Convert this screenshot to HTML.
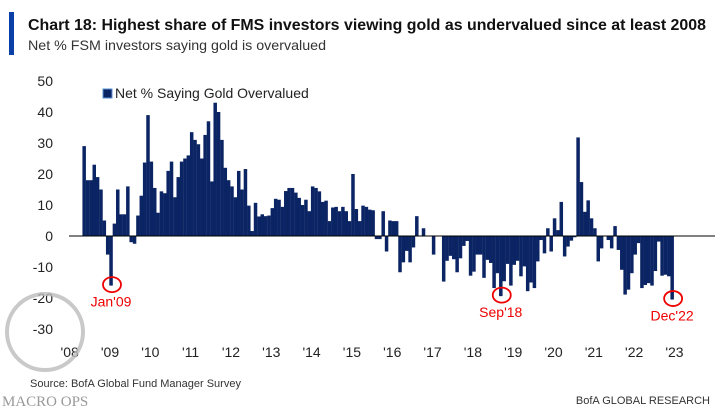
<!DOCTYPE html>
<html><head><meta charset="utf-8"><style>
html,body{margin:0;padding:0;background:#fff;}
svg{display:block;font-family:"Liberation Sans",sans-serif;}
</style></head><body>
<svg width="720" height="417" viewBox="0 0 720 417">
<rect x="9" y="12" width="5" height="43" fill="#0a3fa8"/>
<text x="28" y="30" font-size="16" font-weight="bold" fill="#111" textLength="678" lengthAdjust="spacingAndGlyphs">Chart 18: Highest share of FMS investors viewing gold as undervalued since at least 2008</text>
<text x="28" y="50" font-size="14" fill="#333" textLength="298" lengthAdjust="spacingAndGlyphs">Net % FSM investors saying gold is overvalued</text>
<g id="yaxis"></g>
<g id="xaxis"></g>
<g id="bars"></g>
<line id="zero" stroke="#000" stroke-width="1"/>
<rect x="103" y="89" width="9" height="9" fill="#0b2463" stroke="#5b8fd0" stroke-width="1"/>
<text x="115" y="98" font-size="14" fill="#222">Net % Saying Gold Overvalued</text>
<g id="ann"></g>
<circle cx="45" cy="332" r="38" fill="none" stroke="#bbb" stroke-width="4" opacity="0.8"/>
<text x="30" y="387" font-size="11" fill="#333">Source:  BofA Global Fund Manager Survey</text>
<text x="2" y="406" font-size="15" font-family="Liberation Serif,serif" fill="#999">MACRO OPS</text>
<text x="710" y="404" font-size="11" fill="#333" text-anchor="end">BofA GLOBAL RESEARCH</text>
</svg>
<script>
const startMonth = 4; // May 2008
const values = [29,18,18,23,19,15,5,-6,-16,4,15,7,7,16,-2,-2.5,6.6,13,23.7,39,24,15.5,7.5,14.4,13.8,21,24,12.5,19,24,25,26,33.5,31,29.6,25,32.6,37,17.6,43,40,31,22,18,16,12.5,21,15,21.6,9.8,1.6,10.7,6.3,
7,6.4,6.6,9,12,11.7,9.4,14.5,15.5,15.5,14,12.3,10,11.7,8,16,15.5,14.4,11,11.4,4.8,9.2,9.4,8,9.4,8,4.8,20,8.7,4.8,9.8,9.4,8.5,8.3,-1,-1,8,-5,5,4.8,4.8,-11.7,-8.5,-4.8,-8.5,-3.7,6.4,0,2.5,0,0,-6,0,0,-14.7,-8,-6.4,-7.5,-11.7,-7.2,-3.2,-1.6,
-12.8,-11.5,-6,-6,-13.5,-7.7,-8.7,-16.8,-12,-19.4,-14.6,-9,-16,-9.3,-8,-13,-9.8,-17.8,-15,-16.8,-8.2,-1.3,-5.6,2.5,-5,5.7,1.9,11,-6.6,-3.4,-1.5,-0.4,31.8,17.4,7.8,11.5,5.7,2.5,-8.2,-4,0,-1.3,-4,3.2,-4.5,-10.9,-18.9,-17.3,-12,-6,-2.3,-16.8,-15.8,-15.2,-16,-11.3,-1.8,-12.8,-12.5,-13,-20.5];
const yTicks = [50,40,30,20,10,0,-10,-20,-30];
const xTickLabels = ["'08","'09","'10","'11","'12","'13","'14","'15","'16","'17","'18","'19","'20","'21","'22","'23"];
const annLabels = ["Jan'09","Sep'18","Dec'22"];
const annMonths = [12,128,179];

const NS="http://www.w3.org/2000/svg";
function y(v){return 236 - v*3.1;}
function x(m){return 111 + (m-12)*3.36;}
function mk(tag,attrs,parent,txt){const e=document.createElementNS(NS,tag);for(const k in attrs)e.setAttribute(k,attrs[k]);if(txt!==undefined)e.textContent=txt;parent.appendChild(e);return e;}
const ya=document.getElementById('yaxis');
yTicks.forEach(t=>{const e=mk('text',{x:53,y:y(t)+5,'font-size':14,fill:'#222','text-anchor':'end'},ya,String(t));

});
const xa=document.getElementById('xaxis');
xTickLabels.forEach((l,i)=>{const e=mk('text',{x:x(i*12)-1,y:357,'font-size':14,fill:'#222','text-anchor':'middle'},xa,l);

});
const bg=document.getElementById('bars');
values.forEach((v,i)=>{const m=startMonth+i;const top=Math.min(y(v),y(0));const h=Math.abs(y(v)-y(0));
const r=mk('rect',{x:x(m)-1.7,y:top,width:3.5,height:Math.max(h,0.5),fill:'#0b2463'},bg);

});
const z=document.getElementById('zero');z.setAttribute('x1',69);z.setAttribute('x2',715);z.setAttribute('y1',y(0));z.setAttribute('y2',y(0));
const an=document.getElementById('ann');
annMonths.forEach((m,i)=>{const v=values[m-startMonth];const cy=y(v)-1;
const c=mk('ellipse',{cx:x(m)+1,cy:cy,rx:9,ry:7.5,fill:'none',stroke:'#e00',"stroke-width":1.8},an);


const t=mk('text',{x:x(m),y:cy+22,'font-size':14,fill:'#e00','text-anchor':'middle'},an,annLabels[i]);

});
</script>
</body></html>
